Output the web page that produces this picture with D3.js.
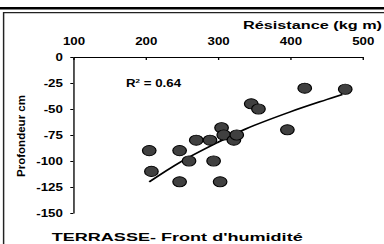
<!DOCTYPE html>
<html>
<head>
<meta charset="utf-8">
<script src="https://cdn.jsdelivr.net/npm/d3@7"></script>
<style>
  body { margin: 0; background: #fff; }
  text { font-family: "Liberation Sans", Arial, sans-serif; }
</style>
</head>
<body>
<div id="chart"></div>
<script>
// data
const resistance = [205, 208, 247, 247, 260, 270, 289, 294, 303, 305, 308, 322, 326, 346, 356, 396, 420, 476];
const profondeur = [-90, -110, -90, -120, -100, -80, -80, -100, -120, -68, -75, -80, -75, -45, -50, -70, -30, -31];
// trend line (as drawn in the picture)
const trendX = [205, 248, 300, 339, 399, 450, 472];
const trendY = [-120, -101, -82, -69, -53, -41, -36];
const xTicks = [100, 200, 300, 400, 500];
const yTicks = [0, -25, -50, -75, -100, -125, -150];

const S = 1.33; // the original picture is stretched horizontally
const W = 384 / S, H = 244;

const svg = d3.select('#chart').append('svg')
  .attr('width', 384)
  .attr('height', 244)
  .attr('viewBox', '0 0 ' + W + ' ' + H)
  .attr('preserveAspectRatio', 'none');

// frame
svg.append('line')
  .attr('x1', 0).attr('x2', W).attr('y1', 8.2).attr('y2', 8.2)
  .attr('stroke', '#000').attr('stroke-width', 2.4);
svg.append('path')
  .attr('d', 'M' + (3.6 / S) + ',250 V12.6 H' + (W + 5))
  .attr('fill', 'none').attr('stroke', '#222').attr('stroke-width', 1.1);

var x = d3.scaleLinear().domain([100, 500]).range([73.3 / S, 362.6 / S]);
var y = d3.scaleLinear().domain([0, -150]).range([57, 213]);

// X axis on top
var gx = svg.append('g')
  .attr('transform', 'translate(0,57)')
  .call(d3.axisTop(x).tickValues(xTicks).tickSizeInner(-3).tickSizeOuter(0).tickPadding(12));

// Y axis
var gy = svg.append('g')
  .attr('transform', 'translate(' + x(100) + ',0)')
  .call(d3.axisLeft(y).tickValues(yTicks).tickSizeInner(3 / S).tickSizeOuter(0)
    .tickPadding(5.6).tickFormat(d => String(d)));

svg.selectAll('.domain, .tick line').attr('stroke', '#000').attr('stroke-width', 1);
svg.selectAll('.tick text')
  .attr('fill', '#000')
  .style('font-size', '10px')
  .style('font-weight', 'bold');

// trend line
var line = d3.line()
  .x(function (d, i) { return x(trendX[i]); })
  .y(function (d) { return y(d); })
  .curve(d3.curveCatmullRom);
svg.append('path')
  .datum(trendY)
  .attr('d', line)
  .attr('fill', 'none')
  .attr('stroke', '#000')
  .attr('stroke-width', 1.6);

// dots
svg.append('g')
  .selectAll('circle')
  .data(resistance)
  .enter()
  .append('circle')
    .attr('cx', function (d) { return x(d); })
    .attr('cy', function (d, i) { return y(profondeur[i]); })
    .attr('r', 5.1)
    .style('fill', '#404040')
    .style('stroke', '#000')
    .style('stroke-width', 0.9);

// R2
var r2 = svg.append('text')
  .attr('x', 126 / S).attr('y', 87.3)
  .style('font-size', '10px').style('font-weight', 'bold');
r2.append('tspan').text('R');
r2.append('tspan').attr('dy', -4).style('font-size', '6px').text('2');
r2.append('tspan').attr('dy', 4).text(' = 0.64');

// axis titles
svg.append('text')
  .attr('x', 243 / S).attr('y', 29.5)
  .attr('textLength', 139 / S).attr('lengthAdjust', 'spacingAndGlyphs')
  .style('font-size', '11.4px').style('font-weight', 'bold')
  .text('Résistance (kg m)');

svg.append('text')
  .attr('transform', 'translate(' + (25 / S) + ',136) rotate(-90)')
  .attr('text-anchor', 'middle')
  .attr('textLength', 82).attr('lengthAdjust', 'spacingAndGlyphs')
  .style('font-size', '8.5px').style('font-weight', 'bold')
  .text('Profondeur cm');

svg.append('text')
  .attr('x', 51.7 / S).attr('y', 240.7)
  .attr('textLength', 251 / S).attr('lengthAdjust', 'spacingAndGlyphs')
  .style('font-size', '11.6px').style('font-weight', 'bold')
  .text("TERRASSE- Front d'humidité");
</script>
</body>
</html>
